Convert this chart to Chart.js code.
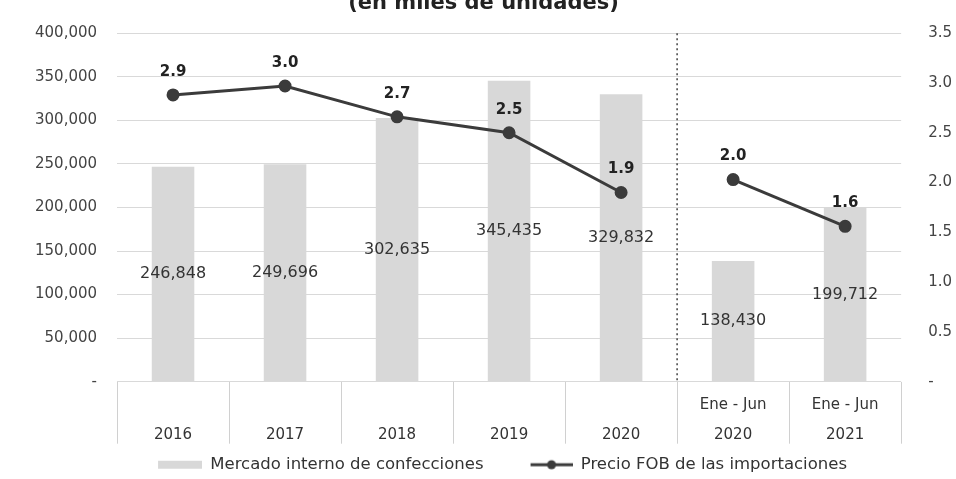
<!DOCTYPE html>
<html><head><meta charset="utf-8">
<script src="https://cdn.jsdelivr.net/npm/chart.js@4.4.1/dist/chart.umd.min.js"></script>
<style>
html,body{margin:0;padding:0;background:#fff;overflow:hidden;width:956px;height:479px}
#wrap{position:absolute;left:0;top:-16px;width:956px;height:499px}
</style>
</head><body><div id="wrap"><canvas id="c"></canvas></div>
<script>
const categories = [["","2016"],["","2017"],["","2018"],["","2019"],["","2020"],["Ene - Jun","2020"],["Ene - Jun","2021"]];
const mercadoInterno = [246848,249696,302635,345435,329832,138430,199712];
const precioFOB = [2.88,2.97,2.66,2.50,1.90,2.03,1.56];
const seriesNames = ["Mercado interno de confecciones","Precio FOB de las importaciones"];
const titleText = "(en miles de unidades)";

const FONT = "'DejaVu Sans', sans-serif";
const barColor = '#d8d8d8';
const lineColor = '#3b3b3b';

function icon(kind){
  const c = document.createElement('canvas');
  c.width = 82; c.height = 12;
  const g = c.getContext('2d');
  if (kind === 'bar') {
    g.fillStyle = barColor; g.fillRect(38, 2, 44, 8);
  } else {
    g.strokeStyle = lineColor; g.lineWidth = 3;
    g.beginPath(); g.moveTo(40, 6); g.lineTo(82, 6); g.stroke();
    g.fillStyle = lineColor; g.beginPath(); g.arc(61, 6, 4.5, 0, Math.PI*2); g.fill();
  }
  return c;
}
const icons = [icon('bar'), icon('line')];

const labelsPlugin = {
  id: 'valueLabels',
  afterDatasetsDraw(chart){
    const ctx = chart.ctx;
    ctx.save();
    ctx.textAlign = 'center'; ctx.textBaseline = 'middle';
    const mb = chart.getDatasetMeta(0);
    ctx.font = "16px " + FONT; ctx.fillStyle = '#333';
    mb.data.forEach((el, i) => {
      ctx.fillText(mercadoInterno[i].toLocaleString('en-US'), el.x, (el.y + el.base) / 2);
    });
    const ml = chart.getDatasetMeta(1);
    ctx.font = "bold 15px " + FONT; ctx.fillStyle = '#222';
    ml.data.forEach((el, i) => {
      ctx.fillText(precioFOB[i].toFixed(1), el.x, el.y - 23);
    });
    ctx.restore();
  },
  beforeDatasetsDraw(chart){
    const x = chart.scales.x, a = chart.chartArea, ctx = chart.ctx;
    const px = (x.getPixelForTick(4) + x.getPixelForTick(5)) / 2;
    ctx.save();
    ctx.strokeStyle = '#444'; ctx.lineWidth = 1.5; ctx.setLineDash([2, 3]);
    ctx.beginPath(); ctx.moveTo(px, a.top); ctx.lineTo(px, a.bottom); ctx.stroke();
    ctx.restore();
  }
};

new Chart(document.getElementById('c'), {
  data: {
    labels: categories,
    datasets: [
      { type: 'bar', label: seriesNames[0], data: mercadoInterno, backgroundColor: barColor,
        yAxisID: 'y', order: 2, barPercentage: 0.38, categoryPercentage: 1 },
      { type: 'line', label: seriesNames[1], data: precioFOB, yAxisID: 'y1', order: 1,
        borderColor: lineColor, backgroundColor: lineColor, borderWidth: 3,
        pointRadius: 5, pointBackgroundColor: lineColor, pointBorderColor: lineColor,
        segment: { borderColor: c => c.p0DataIndex === 4 ? 'rgba(0,0,0,0)' : lineColor } }
    ]
  },
  options: {
    responsive: true, maintainAspectRatio: false, animation: false, devicePixelRatio: 1,
    layout: { padding: { left: 15, right: 4, top: 0, bottom: 0 } },
    plugins: {
      tooltip: { enabled: false },
      title: { display: true, text: titleText, color: '#222',
        font: { family: FONT, size: 21, weight: 'bold' }, padding: { top: 7, bottom: 17 } },
      legend: { position: 'bottom', align: 'center',
        labels: { usePointStyle: true, pointStyleWidth: 82, boxHeight: 12, padding: 7,
          color: '#333', font: { family: FONT, size: 16.5 },
          generateLabels: () => seriesNames.map((t, i) => ({ text: t, pointStyle: icons[i],
            fillStyle: 'transparent', strokeStyle: 'transparent', lineWidth: 0, datasetIndex: i, fontColor: '#333' })) } }
    },
    scales: {
      x: {
        offset: true,
        grid: { offset: true, drawOnChartArea: false, drawTicks: true, tickLength: 62, color: '#d0d0d0', tickColor: '#d0d0d0' },
        border: { display: false },
        title: { display: true, text: ' ', padding: 0, font: { size: 10, lineHeight: 5.3 } },
        ticks: { padding: -53, color: '#333', maxRotation: 0, autoSkip: false,
          font: { family: FONT, size: 15, lineHeight: 1.96 } }
      },
      y: {
        position: 'left', min: 0, max: 400000,
        ticks: { stepSize: 50000, padding: 20, color: '#444', font: { family: FONT, size: 15 },
          callback: v => v === 0 ? '-' : v.toLocaleString('en-US') },
        grid: { color: '#d9d9d9', drawTicks: false },
        border: { display: false }
      },
      y1: {
        position: 'right', min: 0, max: 3.5,
        ticks: { stepSize: 0.5, padding: 0, color: '#444', font: { family: FONT, size: 15 },
          callback: v => v === 0 ? '-' : v.toFixed(1) },
        grid: { drawOnChartArea: false, drawTicks: true, tickLength: 27, tickColor: 'rgba(0,0,0,0)' },
        border: { display: false }
      }
    }
  },
  plugins: [labelsPlugin]
});
</script>
</body></html>
